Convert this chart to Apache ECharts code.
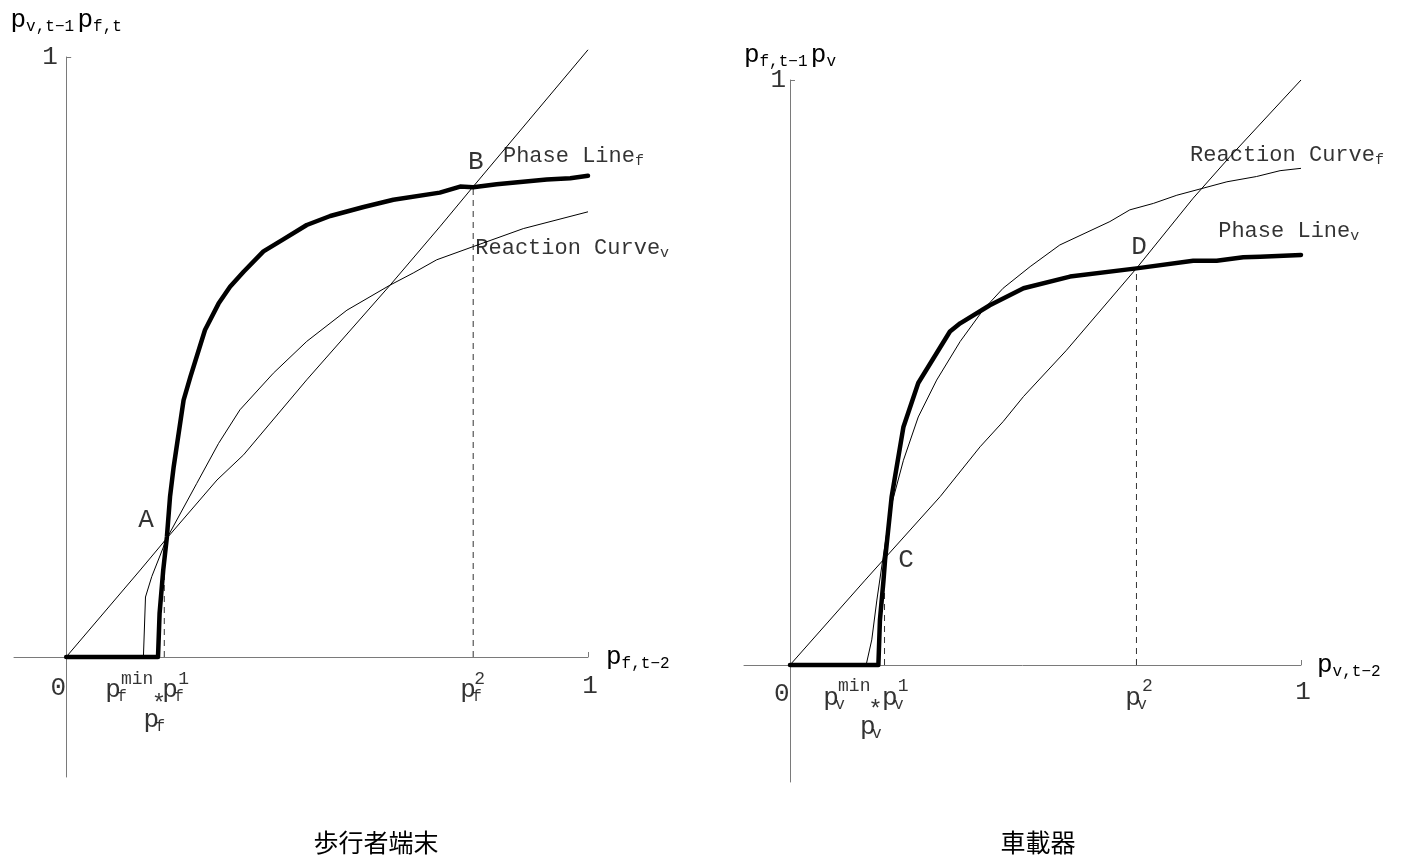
<!DOCTYPE html>
<html>
<head>
<meta charset="utf-8">
<script src="https://cdn.jsdelivr.net/npm/echarts@6/dist/echarts.min.js"></script>
<style>
  html, body { margin: 0; padding: 0; background: #fff; }
  #chart { width: 1402px; height: 864px; }
</style>
</head>
<body>
<div id="chart"></div>
<script>
// ---- Left panel: pedestrian terminal ----
const diagonalLeft = [[0, 0], [0.142, 0.145], [0.193, 0.198], [0.289, 0.295], [0.34, 0.337],
  [0.461, 0.462], [0.621, 0.62], [0.716, 0.717], [0.78, 0.784], [1.0, 1.012]];
const reactionCurveV = [[0.148, 0], [0.152, 0.1], [0.164, 0.134], [0.193, 0.198], [0.25, 0.289],
  [0.292, 0.356], [0.333, 0.412], [0.397, 0.473], [0.461, 0.526], [0.538, 0.578], [0.621, 0.62],
  [0.665, 0.64], [0.71, 0.662], [0.78, 0.684], [0.876, 0.714], [1.0, 0.742]];
const phaseLineF = [[0, 0], [0.176, 0], [0.179, 0.073], [0.186, 0.145], [0.193, 0.2], [0.199, 0.267],
  [0.206, 0.317], [0.225, 0.428], [0.238, 0.467], [0.266, 0.545], [0.292, 0.589], [0.314, 0.617],
  [0.34, 0.642], [0.378, 0.676], [0.416, 0.696], [0.461, 0.72], [0.506, 0.735], [0.57, 0.75],
  [0.627, 0.762], [0.716, 0.774], [0.755, 0.784], [0.78, 0.783], [0.825, 0.788], [0.921, 0.796],
  [0.966, 0.798], [1.0, 0.802]];
const pointA = [0.188, 0.198];   // p_f^1 and equilibrium A
const pointB = [0.78, 0.783];    // p_f^2 and equilibrium B

// ---- Right panel: in-vehicle unit ----
const diagonalRight = [[0, 0], [0.147, 0.145], [0.294, 0.288], [0.372, 0.373], [0.417, 0.416],
  [0.457, 0.459], [0.541, 0.538], [0.678, 0.678], [0.789, 0.798], [0.861, 0.869], [1.0, 1.0]];
const reactionCurveF = [[0.149, 0], [0.16, 0.043], [0.17, 0.111], [0.18, 0.171], [0.196, 0.265],
  [0.222, 0.35], [0.251, 0.424], [0.287, 0.487], [0.333, 0.553], [0.378, 0.607], [0.417, 0.644],
  [0.47, 0.681], [0.528, 0.718], [0.626, 0.758], [0.665, 0.778], [0.711, 0.789], [0.757, 0.803],
  [0.855, 0.826], [0.913, 0.835], [0.959, 0.845], [1.0, 0.849]];
const phaseLineV = [[0, 0], [0.173, 0], [0.176, 0.077], [0.183, 0.145], [0.186, 0.179], [0.199, 0.288],
  [0.222, 0.407], [0.251, 0.482], [0.313, 0.57], [0.333, 0.584], [0.391, 0.615], [0.457, 0.644],
  [0.548, 0.664], [0.678, 0.678], [0.789, 0.691], [0.835, 0.691], [0.887, 0.697], [0.92, 0.698],
  [1.0, 0.701]];
const pointC = [0.185, 0.18];    // p_v^1 and equilibrium C
const pointD = [0.678, 0.678];   // p_v^2 and equilibrium D

const panelTitles = ['歩行者端末', '車載器'];

const MONO = '"Liberation Mono", "DejaVu Sans Mono", monospace';

const rich = {
  p: { fontFamily: MONO, fontSize: 26, lineHeight: 30, color: '#000' },
  q: { fontFamily: MONO, fontSize: 26, lineHeight: 30, width: 12, color: '#000' },
  s: { fontFamily: MONO, fontSize: 16, lineHeight: 14, verticalAlign: 'bottom', color: '#000' },
  u: { fontFamily: MONO, fontSize: 18, color: '#000' },
  st: { fontFamily: MONO, fontSize: 24, color: '#000' },
  L: { fontFamily: MONO, fontSize: 22, lineHeight: 26, color: '#000' },
  ls: { fontFamily: MONO, fontSize: 15, lineHeight: 12, verticalAlign: 'bottom', color: '#000' },
  big: { fontFamily: MONO, fontSize: 26, color: '#000' }
};

// text annotations: [x, y, text, 'left' | 'center']
const notesLeft = [
  [0.153, 0.228, '{big|A}', 'center'],
  [0.785, 0.825, '{big|B}', 'center'],
  [0.837, 0.835, '{L|Phase Line}{ls|f}', 'left'],
  [0.784, 0.682, '{L|Reaction Curve}{ls|v}', 'left'],
  [-0.015, -0.052, '{big|0}', 'center'],
  [1.004, -0.048, '{big|1}', 'center'],
  [-0.031, 1.0, '{big|1}', 'center'],
  [0.075, -0.055, '{q|p}{s|f}', 'left'],
  [0.105, -0.037, '{u|min}', 'left'],
  [0.184, -0.055, '{q|p}{s|f}', 'left'],
  [0.215, -0.037, '{u|1}', 'left'],
  [0.148, -0.105, '{q|p}{s|f}', 'left'],
  [0.164, -0.08, '{st|*}', 'left'],
  [0.755, -0.055, '{q|p}{s|f}', 'left'],
  [0.782, -0.037, '{u|2}', 'left']
];
const notesRight = [
  [0.227, 0.179, '{big|C}', 'center'],
  [0.683, 0.715, '{big|D}', 'center'],
  [0.783, 0.872, '{L|Reaction Curve}{ls|f}', 'left'],
  [0.838, 0.742, '{L|Phase Line}{ls|v}', 'left'],
  [-0.016, -0.05, '{big|0}', 'center'],
  [1.004, -0.046, '{big|1}', 'center'],
  [-0.023, 1.0, '{big|1}', 'center'],
  [0.065, -0.056, '{q|p}{s|v}', 'left'],
  [0.094, -0.036, '{u|min}', 'left'],
  [0.18, -0.056, '{q|p}{s|v}', 'left'],
  [0.211, -0.036, '{u|1}', 'left'],
  [0.137, -0.106, '{q|p}{s|v}', 'left'],
  [0.153, -0.078, '{st|*}', 'left'],
  [0.656, -0.056, '{q|p}{s|v}', 'left'],
  [0.689, -0.036, '{u|2}', 'left']
];

const AXIS_COLOR = '#7a7a7a';

function xAxisFor(gridIndex, min, name, nameGap) {
  return {
    type: 'value', gridIndex, min, max: 1,
    splitLine: { show: false },
    axisLine: { show: true, onZero: true, lineStyle: { color: AXIS_COLOR, width: 1 } },
    axisTick: { show: true, inside: true, length: 5, customValues: [1], lineStyle: { color: AXIS_COLOR } },
    axisLabel: { show: false },
    name, nameLocation: 'end', nameGap,
    nameTextStyle: { rich, verticalAlign: 'middle', align: 'left' }
  };
}
function yAxisFor(gridIndex, name, nameGap) {
  return {
    type: 'value', gridIndex, min: -0.2, max: 1,
    splitLine: { show: false },
    axisLine: { show: true, onZero: true, lineStyle: { color: AXIS_COLOR, width: 1 } },
    axisTick: { show: true, inside: true, length: 5, customValues: [1], lineStyle: { color: AXIS_COLOR } },
    axisLabel: { show: false },
    name, nameLocation: 'end', nameGap,
    nameTextStyle: { rich, align: 'center' }
  };
}

function thin(data, i) {
  return { type: 'line', xAxisIndex: i, yAxisIndex: i, data, showSymbol: false, symbol: 'none',
    silent: true, z: 2, clip: false, lineStyle: { color: '#000', width: 1 } };
}
function thick(data, i) {
  return { type: 'line', xAxisIndex: i, yAxisIndex: i, data, showSymbol: false, symbol: 'none',
    silent: true, z: 4, clip: false, lineStyle: { color: '#000', width: 4.5, cap: 'round', join: 'round' } };
}
function dashed(pt, i) {
  return { type: 'line', xAxisIndex: i, yAxisIndex: i, data: [[pt[0], 0], [pt[0], pt[1]]],
    showSymbol: false, symbol: 'none', silent: true, z: 1,
    lineStyle: { color: '#333', width: 1, type: [6, 5] } };
}
function notes(list, i) {
  return {
    type: 'scatter', xAxisIndex: i, yAxisIndex: i, symbolSize: 0, silent: true, z: 6, clip: false,
    data: list.map(n => ({
      value: [n[0], n[1]],
      label: {
        show: true, formatter: n[2], rich,
        position: n[3] === 'left' ? 'right' : 'inside', distance: 0
      }
    }))
  };
}

const chart = echarts.init(document.getElementById('chart'), null, { renderer: 'canvas' });
chart.setOption({
  backgroundColor: '#fff',
  animation: false,
  grid: [
    { left: 14, top: 57, width: 574, height: 720, outerBoundsMode: 'none', containLabel: false },
    { left: 744, top: 80, width: 557, height: 702, outerBoundsMode: 'none', containLabel: false }
  ],
  xAxis: [
    xAxisFor(0, -0.1, '{p|p}{s|f,t−2}', 18),
    xAxisFor(1, -0.09, '{p|p}{s|v,t−2}', 16)
  ],
  yAxis: [
    yAxisFor(0, '{p|p}{s|v,t−1} {p|p}{s|f,t}', 22),
    yAxisFor(1, '{p|p}{s|f,t−1} {p|p}{s|v}', 10)
  ],
  series: [
    dashed(pointA, 0), dashed(pointB, 0),
    thin(diagonalLeft, 0), thin(reactionCurveV, 0), thick(phaseLineF, 0),
    notes(notesLeft, 0),
    dashed(pointC, 1), dashed(pointD, 1),
    thin(diagonalRight, 1), thin(reactionCurveF, 1), thick(phaseLineV, 1),
    notes(notesRight, 1)
  ],
  graphic: [
    { type: 'text', x: 376, y: 842, silent: true,
      style: { text: panelTitles[0], font: '25px "Noto Sans CJK JP"', fill: '#000', align: 'center', verticalAlign: 'middle' } },
    { type: 'text', x: 1038, y: 842, silent: true,
      style: { text: panelTitles[1], font: '25px "Noto Sans CJK JP"', fill: '#000', align: 'center', verticalAlign: 'middle' } }
  ]
});
</script>
</body>
</html>
